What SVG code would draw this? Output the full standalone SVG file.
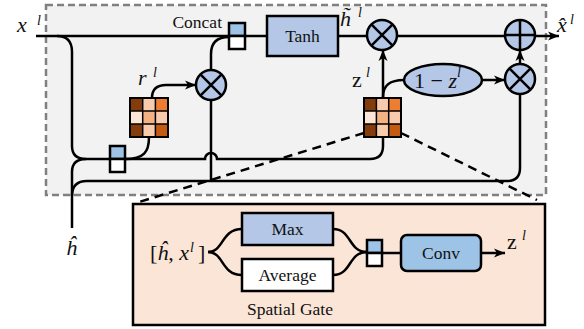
<svg xmlns="http://www.w3.org/2000/svg" width="584" height="329" viewBox="0 0 584 329">
<style>
.ln{fill:none;stroke:#000;stroke-width:2.5}
.bx{stroke:#000;stroke-width:2.5}
.t{font-family:"Liberation Serif",serif;font-size:17.5px;fill:#111}
.m{font-family:"Liberation Serif",serif;font-style:italic;font-size:22px;fill:#111}
.r{font-family:"Liberation Serif",serif;font-size:22px;fill:#111}
.s{font-family:"Liberation Serif",serif;font-style:italic;font-size:14px;fill:#111}
.op{fill:#b4c7e7;stroke:#000;stroke-width:2.5}
.dash{fill:none;stroke:#000;stroke-width:2.5;stroke-dasharray:9,6}
</style>
<defs>
<marker id="ah" markerUnits="userSpaceOnUse" markerWidth="12" markerHeight="10" refX="11" refY="5" orient="auto" overflow="visible">
<path d="M0,0.5 L11,5 L0,9.5 L3,5 z" fill="#000"/>
</marker>
</defs>
<rect id="frame" x="46" y="5" width="500" height="190" fill="#f2f2f2" stroke="#808080" stroke-width="2.5" stroke-dasharray="7,4"/>

<g id="connectors">
<path class="ln" d="M36,36 L229,36"/>
<path class="ln" d="M245,36 L267,36"/>
<path class="ln" d="M338,36 L367,36"/>
<path class="ln" d="M397,36 L505,36"/>
<path class="ln" d="M535,36 L559,36" marker-end="url(#ah)"/>
<path class="ln" d="M57,36 Q72,36 72,52 L72,146 Q72,159 86,159 L205,159 A6,6 0 0 1 217,159 L370,159 Q383,159 383,146 L383,137"/>
<path class="ln" d="M72,228 L72,172 Q72,159 86,159"/>
<path class="ln" d="M72,196 Q72,181 87,181 L507,181 Q520,181 520,168 L520,94"/>
<path class="ln" d="M211,100 L211,181"/>
<path class="ln" d="M211,70 L211,54 Q211,37 229,37"/>
<path class="ln" d="M125,159 C144,159 149,152 149,137"/>
<path class="ln" d="M152,98 Q152,85 166,85 L196,85" marker-end="url(#ah)"/>
<path class="ln" d="M383,98 L383,50" marker-end="url(#ah)"/>
<path class="ln" d="M383,97 C383,85 390,80 404,80"/>
<path class="ln" d="M482,80 L505,80" marker-end="url(#ah)"/>
<path class="ln" d="M520,64 L520,50" marker-end="url(#ah)"/>
<path class="dash" d="M364,133 L139,202"/>
<path class="dash" d="M401,133 L537,200"/>
</g>

<g id="concat1">
<rect x="229" y="23" width="16" height="13" fill="#9dc3e6" class="bx"/>
<rect x="229" y="36" width="16" height="13" fill="#fff" class="bx"/>
<text class="t" x="222" y="28" text-anchor="end">Concat</text>
</g>
<g id="concat2">
<rect x="110" y="146" width="15" height="13" fill="#9dc3e6" class="bx"/>
<rect x="110" y="159" width="15" height="13" fill="#fff" class="bx"/>
</g>

<g id="tanh">
<rect x="267" y="16" width="71" height="40" fill="#b4c7e7" class="bx"/>
<text class="t" x="302.5" y="42" text-anchor="middle">Tanh</text>
</g>

<g id="mul-r">
<circle class="op" cx="211" cy="85" r="15"/>
<path class="ln" d="M200.4,74.4 L221.6,95.6 M221.6,74.4 L200.4,95.6"/>
</g>
<g id="mul-h">
<circle class="op" cx="382" cy="35" r="15"/>
<path class="ln" d="M371.4,24.4 L392.6,45.6 M392.6,24.4 L371.4,45.6"/>
</g>
<g id="mul-z">
<circle class="op" cx="520" cy="79" r="15"/>
<path class="ln" d="M509.4,68.4 L530.6,89.6 M530.6,68.4 L509.4,89.6"/>
</g>
<g id="add">
<circle class="op" cx="520" cy="35" r="15"/>
<path class="ln" d="M520,20 L520,50 M505,35 L535,35"/>
</g>

<g id="one-minus-z">
<ellipse class="op" cx="443" cy="80" rx="39" ry="16"/>
<text class="r" x="414" y="88">1 − <tspan font-style="italic">z</tspan></text>
<text class="s" x="457" y="77">l</text>
</g>

<g id="r-gate">
<rect x="130" y="98" width="12.7" height="13" fill="#843c0c"/>
<rect x="142.7" y="98" width="12.7" height="13" fill="#f8cbad"/>
<rect x="155.4" y="98" width="12.6" height="13" fill="#ed7d31"/>
<rect x="130" y="111" width="12.7" height="13" fill="#fbe5d6"/>
<rect x="142.7" y="111" width="12.7" height="13" fill="#f4b183"/>
<rect x="155.4" y="111" width="12.6" height="13" fill="#f8cbad"/>
<rect x="130" y="124" width="12.7" height="13" fill="#843c0c"/>
<rect x="142.7" y="124" width="12.7" height="13" fill="#f8cbad"/>
<rect x="155.4" y="124" width="12.6" height="13" fill="#c55a11"/>
<path d="M142.7,98 V137 M155.4,98 V137 M130,111 H168 M130,124 H168" stroke="#000" stroke-width="1.5"/>
<rect x="130" y="98" width="38" height="39" fill="none" stroke="#000" stroke-width="2"/>
<text class="m" x="138" y="85" font-size="20">r</text>
<text class="s" x="153" y="77">l</text>
</g>

<g id="z-gate">
<rect x="364" y="98" width="12.4" height="13" fill="#843c0c"/>
<rect x="376.4" y="98" width="12.3" height="13" fill="#f8cbad"/>
<rect x="388.7" y="98" width="12.3" height="13" fill="#ed7d31"/>
<rect x="364" y="111" width="12.4" height="13" fill="#fbe5d6"/>
<rect x="376.4" y="111" width="12.3" height="13" fill="#f4b183"/>
<rect x="388.7" y="111" width="12.3" height="13" fill="#f8cbad"/>
<rect x="364" y="124" width="12.4" height="13" fill="#843c0c"/>
<rect x="376.4" y="124" width="12.3" height="13" fill="#f8cbad"/>
<rect x="388.7" y="124" width="12.3" height="13" fill="#c55a11"/>
<path d="M376.4,98 V137 M388.7,98 V137 M364,111 H401 M364,124 H401" stroke="#000" stroke-width="1.5"/>
<rect x="364" y="98" width="37" height="39" fill="none" stroke="#000" stroke-width="2"/>
<text class="r" x="352" y="87" font-size="20">z</text>
<text class="s" x="366" y="77">l</text>
</g>

<g id="labels">
<text class="m" x="17" y="32">x</text>
<text class="s" x="37" y="25">l</text>
<text class="m" x="340" y="26">h&#x0303;</text>
<text class="s" x="358" y="17">l</text>
<text class="m" x="557" y="32">x&#x0302;</text>
<text class="s" x="570" y="24">l</text>
<text class="m" x="66" y="255">ĥ</text>
</g>

<g id="spatial-gate">
<rect x="133" y="204" width="412" height="121" fill="#fbe5d6" stroke="#000" stroke-width="2.5"/>
<text class="r" x="150" y="260" font-size="20">[<tspan font-style="italic">ĥ</tspan>, <tspan font-style="italic">x</tspan></text>
<text class="s" x="190" y="252">l</text>
<text class="r" x="198" y="260" font-size="20">]</text>
<path class="ln" d="M208,252 C224,252 221,229 242,229"/>
<path class="ln" d="M208,252 C224,252 221,275 242,275"/>
<path class="ln" d="M333,229 C352,229 348,252 367,252"/>
<path class="ln" d="M333,275 C352,275 348,252 367,252"/>
<g id="max"><rect x="242" y="213" width="91" height="32" fill="#b4c7e7" class="bx"/>
<text class="t" x="287.5" y="235" text-anchor="middle">Max</text></g>
<g id="average"><rect x="242" y="259" width="91" height="32" fill="#fff" class="bx"/>
<text class="t" x="287.5" y="281" text-anchor="middle">Average</text></g>
<g id="concat3"><rect x="367" y="240" width="15" height="13" fill="#9dc3e6" class="bx"/>
<rect x="367" y="253" width="15" height="13" fill="#fff" class="bx"/></g>
<path class="ln" d="M382,253 L401,253"/>
<g id="conv"><rect x="401" y="235" width="80" height="36" rx="6" fill="#9dc3e6" class="bx"/>
<text class="t" x="441" y="259" text-anchor="middle">Conv</text></g>
<path class="ln" d="M481,253 L505,253" marker-end="url(#ah)"/>
<text class="r" x="507" y="249" font-size="20">z</text>
<text class="s" x="522" y="240">l</text>
<text class="t" x="290" y="315" text-anchor="middle">Spatial Gate</text>
</g>
</svg>
